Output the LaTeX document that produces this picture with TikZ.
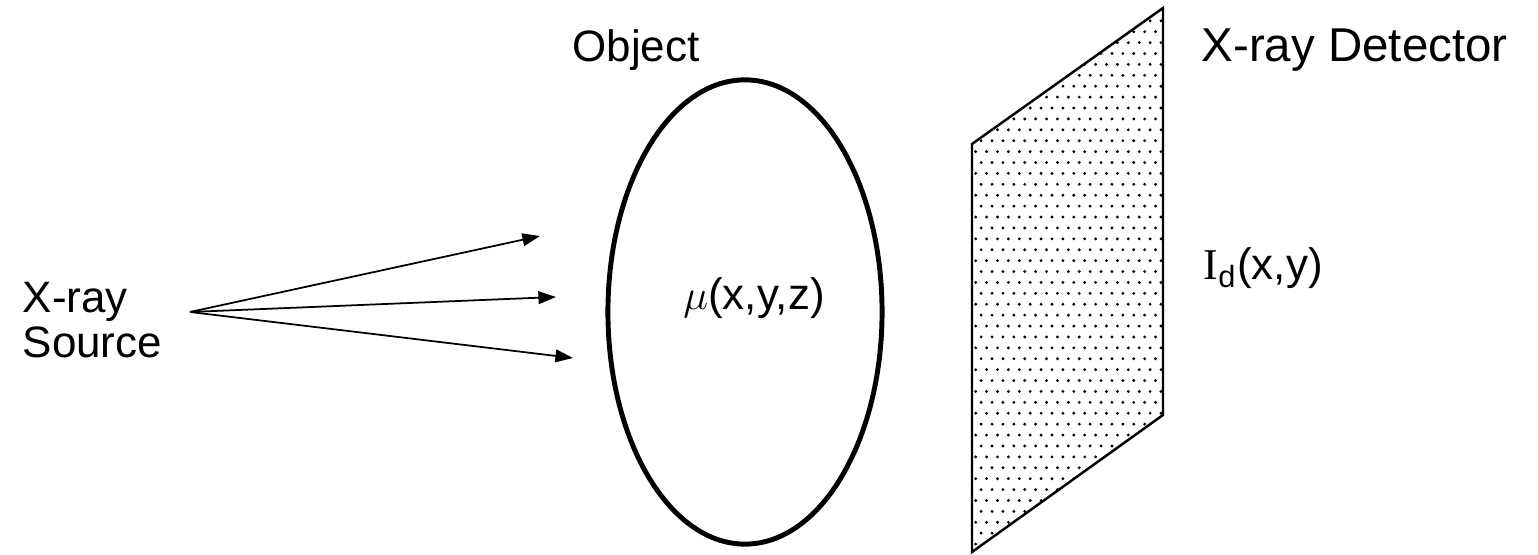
\documentclass[tikz,border=0pt]{standalone}
\usepackage{fontspec}
\setmainfont{Liberation Sans}
\newfontfamily\serifI{Liberation Serif}
\usetikzlibrary{arrows.meta,patterns,shapes.geometric}

\pgfdeclarepatternformonly{detdots}{\pgfqpoint{-1pt}{-1pt}}{\pgfqpoint{3pt}{4pt}}{\pgfqpoint{3.1pt}{6.2pt}}{%
  \pgfpathcircle{\pgfqpoint{0pt}{0pt}}{0.45pt}%
  \pgfpathcircle{\pgfqpoint{1.55pt}{3.1pt}}{0.45pt}%
  \pgfusepath{fill}}

\tikzset{
  lbl/.style={font=\fontsize{12.5}{13}\selectfont, inner sep=0pt},
  ray/.style={-{Triangle[length=5pt,width=3.6pt]}, line width=0.5pt},
}

\begin{document}
\begin{tikzpicture}[x=0.01cm, y=-0.01cm]
      % \draw[help lines, gray!50, very thin] (0,0) grid[step=100] (1538,555);
      \useasboundingbox (0,0) rectangle (1538,555);

      % object
      \node[ellipse, draw, line width=1.4pt, minimum width=2.74cm, minimum height=4.64cm,
            inner sep=0pt] (obj) at (745,312) {};
      \node[lbl] (mu) at (754,298) {$\mu$(x,y,z)};
      \node[lbl] (objlbl) at (636,50) {Object};

      % source and rays
      \node[lbl, anchor=west, align=left] (srclbl) at (22,320) {X-ray\\Source};
      \coordinate (src) at (190,312);
      \coordinate (r1) at (540,236);
      \coordinate (r2) at (556,297);
      \coordinate (r3) at (573,358);
      \draw[ray] (src) -- (r1);
      \draw[ray] (src) -- (r2);
      \draw[ray] (src) -- (r3);

      % detector
      \draw[pattern=detdots, line width=0.7pt] (972,144) -- (1163,8) -- (1163,415) -- (972,552) -- cycle;
      \node[lbl, anchor=west, font=\fontsize{13.5}{16}\selectfont] (detlbl) at (1201,50) {X-ray Detector};
      \node[lbl, anchor=west] (intlbl) at (1203,268) {{\serifI I}\textsubscript{d}(x,y)};
    \end{tikzpicture}
\end{document}
